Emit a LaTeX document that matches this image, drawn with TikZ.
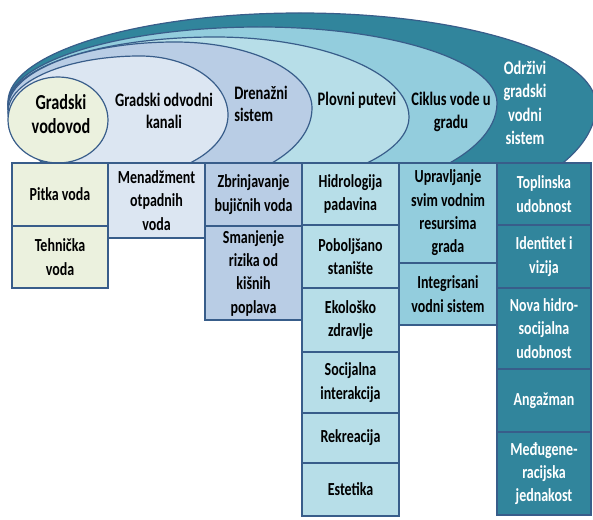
\documentclass[tikz,border=0pt]{standalone}
\usepackage{fontspec}
\setmainfont{Carlito}[FakeStretch=0.76]
\definecolor{lineblue}{HTML}{385D8A}
\definecolor{cA}{HTML}{EBF1DE}
\definecolor{cB}{HTML}{DCE6F2}
\definecolor{cC}{HTML}{B9CDE5}
\definecolor{cD}{HTML}{B7DEE8}
\definecolor{cE}{HTML}{93CDDD}
\definecolor{cF}{HTML}{31859C}
\newcommand\eggpath[8]{(#1,#2) .. controls (#1,{#2+0.5523*(#4-#2)}) and ({#3-0.5523*(#3-#1)},#4) .. (#3,#4) .. controls ({#3+0.5523*(#5-#3)},#4) and (#5,{#6+0.5523*(#4-#6)}) .. (#5,#6) .. controls (#5,{#6+0.5523*(#8-#6)}) and ({#7+0.5523*(#5-#7)},#8) .. (#7,#8) .. controls ({#7-0.5523*(#7-#1)},#8) and (#1,{#2+0.5523*(#8-#2)}) .. cycle}
\newcommand\cell[7]{\node[cellbox, fill=#6, minimum width={(#4-#2)*0.75pt}, minimum height={(#5-#3)*0.75pt}] (#1) at ({(#2+#4)/2},{(#3+#5)/2}) {#7};}
\tikzset{
  outl/.style={draw=lineblue, line width=0.9pt},
  cellbox/.style={draw=lineblue, line width=1.1pt, rectangle, inner sep=0pt, outer sep=0pt, align=center, font=\bfseries\fontsize{13.8}{17.5}\selectfont},
  lbl/.style={align=center, inner sep=0pt, font=\bfseries\fontsize{14.3}{17}\selectfont},
}
\begin{document}
\begin{tikzpicture}[x=0.75pt,y=-0.75pt]
\useasboundingbox (0,0) rectangle (593,520);
% nested egg shapes, outer first
\fill[cF] \eggpath{8}{102}{300}{13}{596}{105}{300}{231};
\draw[outl] \eggpath{8}{102}{300}{13}{596}{105}{300}{231};
\fill[cE] \eggpath{8}{104}{260}{27}{497}{103}{260}{203};
\draw[outl] \eggpath{8}{104}{260}{27}{497}{103}{260}{203};
\fill[cD] \eggpath{8}{105}{215}{37}{409}{117}{215}{191};
\draw[outl] \eggpath{8}{105}{215}{37}{409}{117}{215}{191};
\fill[cC] \eggpath{8}{108}{175}{42}{312}{108}{170}{187};
\draw[outl] \eggpath{8}{108}{175}{42}{312}{108}{170}{187};
\fill[cB] \eggpath{8}{112}{140}{56}{228}{115}{120}{178};
\draw[outl] \eggpath{8}{112}{140}{56}{228}{115}{120}{178};
\filldraw[outl, fill=cA] (58,120) ellipse [x radius=50, y radius=43];
% ellipse labels
\node[lbl, font=\bfseries\fontsize{16}{17.5}\selectfont] (l1) at (61,114) {Gradski\\vodovod};
\node[lbl] (l2) at (164,111) {Gradski odvodni\\kanali};
\node[lbl, align=left, anchor=west] (l3) at (234,104) {Drenažni\\sistem};
\node[lbl] (l4) at (357,100) {Plovni putevi};
\node[lbl] (l5) at (451,112) {Ciklus vode u\\gradu};
\node[lbl, text=white, font=\bfseries\fontsize{14.3}{17.5}\selectfont] (l6) at (525,103) {Održivi\\gradski\\vodni\\sistem};
% column 1
\cell{a1}{12}{163}{108}{226}{cA}{Pitka voda}
\cell{a2}{12}{226}{108}{288}{cA}{Tehnička\\voda}
% column 2
\cell{b1}{108}{163}{205}{238}{cB}{Menadžment\\otpadnih\\voda}
% column 3
\cell{c1}{205}{163}{302}{226}{cC}{Zbrinjavanje\\bujičnih voda}
\cell{c2}{205}{226}{302}{320}{cC}{Smanjenje\\rizika od\\kišnih\\poplava}
% column 4
\cell{d1}{302}{163}{399}{225}{cD}{Hidrologija\\padavina}
\cell{d2}{302}{225}{399}{288}{cD}{Poboljšano\\stanište}
\cell{d3}{302}{288}{399}{352}{cD}{Ekološko\\zdravlje}
\cell{d4}{302}{352}{399}{413}{cD}{Socijalna\\interakcija}
\cell{d5}{302}{413}{399}{463}{cD}{Rekreacija}
\cell{d6}{302}{463}{399}{516}{cD}{Estetika}
% column 5
\cell{e1}{399}{163}{497}{263}{cE}{Upravljanje\\svim vodnim\\resursima\\grada}
\cell{e2}{399}{263}{497}{325}{cE}{Integrisani\\vodni sistem}
% column 6
\begin{scope}[every node/.append style={text=white}]
\cell{f1}{497}{163}{591}{225}{cF}{Toplinska\\udobnost}
\cell{f2}{497}{225}{591}{288}{cF}{Identitet i\\vizija}
\cell{f3}{497}{288}{591}{369}{cF}{Nova hidro-\\socijalna\\udobnost}
\cell{f4}{497}{369}{591}{432}{cF}{Angažman}
\cell{f5}{497}{432}{591}{515}{cF}{Međugene-\\racijska\\jednakost}
\end{scope}
\end{tikzpicture}
\end{document}
